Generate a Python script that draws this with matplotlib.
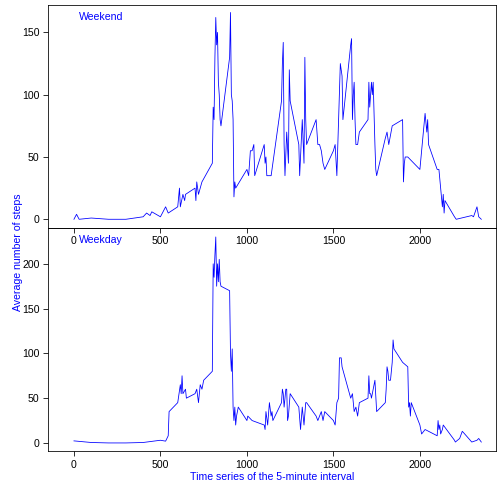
import matplotlib
matplotlib.use("Agg")
import matplotlib.pyplot as plt

plt.rcParams['font.family'] = ['Liberation Sans', 'DejaVu Sans']

# weekend: (interval, mean steps)
weekend_x = [0, 15, 30, 100, 200, 300, 400, 420, 440, 450, 500, 530, 545, 600, 610, 615, 630, 640, 645,
             700, 705, 710, 720, 740, 800, 805, 810, 815, 820, 825, 830, 835, 840, 845, 850, 900, 905, 910,
             915, 920, 925, 930, 935, 1000, 1010, 1020, 1030, 1040, 1045, 1100, 1105, 1110, 1115, 1130, 1140,
             1200, 1205, 1210, 1215, 1220, 1230, 1240, 1245, 1250, 1300, 1305, 1310, 1320, 1330, 1335, 1340,
             1345, 1400, 1410, 1420, 1430, 1440, 1450, 1500, 1510, 1520, 1530, 1540, 1545, 1550, 1555, 1600,
             1605, 1610, 1615, 1620, 1625, 1630, 1640, 1650, 1700, 1705, 1710, 1720, 1725, 1730, 1740, 1745,
             1750, 1800, 1810, 1820, 1840, 1900, 1905, 1910, 1915, 1930, 2000, 2010, 2030, 2040, 2045, 2050,
             2100, 2110, 2120, 2130, 2135, 2140, 2145, 2200, 2210, 2300, 2310, 2330, 2340, 2355]
weekend_y = [0, 4, 0, 1, 0, 0, 2, 5, 3, 6, 2, 10, 5, 10, 25, 10, 20, 15, 20,
             25, 15, 30, 20, 30, 45, 90, 80, 130, 162, 140, 150, 110, 100, 80, 75, 130, 166, 100,
             95, 80, 18, 30, 25, 40, 35, 55, 55, 60, 35, 60, 45, 50, 35, 35, 35,
             95, 125, 142, 60, 35, 70, 45, 120, 95, 60, 35, 50, 80, 45, 130, 80,
             60, 80, 60, 60, 55, 45, 40, 55, 60, 35, 80, 125, 120, 115, 80, 140,
             145, 80, 100, 110, 80, 60, 60, 70, 80, 110, 90, 110, 100, 110, 60, 40,
             35, 65, 70, 60, 75, 80, 30, 45, 50, 50, 40, 55, 85, 70, 80, 60,
             40, 40, 25, 10, 20, 5, 15, 2, 0, 3, 2, 10, 2, 0]

weekday_x = [0, 100, 200, 300, 400, 500, 530, 545, 550, 600, 615, 620, 625, 630, 645, 650, 700, 710, 720,
             730, 740, 750, 800, 805, 810, 815, 820, 825, 830, 835, 840, 845, 850, 900, 905, 910, 915, 920,
             925, 930, 935, 940, 945, 950, 1000, 1005, 1030, 1100, 1105, 1110, 1120, 1130, 1140, 1145, 1150,
             1200, 1205, 1210, 1215, 1225, 1230, 1235, 1240, 1250, 1300, 1310, 1320, 1330, 1340, 1345, 1400,
             1410, 1420, 1430, 1440, 1450, 1500, 1510, 1520, 1530, 1535, 1545, 1550, 1600, 1610, 1620, 1630,
             1640, 1650, 1700, 1705, 1710, 1715, 1720, 1730, 1740, 1750, 1800, 1805, 1810, 1815, 1820, 1830,
             1840, 1845, 1850, 1900, 1930, 1935, 1940, 1945, 1950, 2000, 2010, 2030, 2100, 2105, 2110, 2115,
             2120, 2130, 2135, 2200, 2205, 2230, 2245, 2250, 2300, 2330, 2340, 2355]
weekday_y = [2.3, 0.5, 0, 0, 0.5, 3, 2, 8, 35, 45, 65, 55, 75, 55, 60, 50, 55, 60, 45,
             65, 60, 70, 80, 200, 185, 210, 230, 175, 200, 180, 205, 180, 175, 170, 100, 80, 105, 40,
             25, 40, 20, 30, 35, 40, 25, 30, 25, 20, 15, 35, 20, 45, 30, 35, 25,
             45, 60, 55, 40, 60, 60, 25, 30, 55, 40, 15, 40, 20, 45, 45, 30,
             25, 30, 35, 25, 35, 25, 20, 45, 50, 95, 95, 85, 50, 55, 35, 40,
             30, 45, 50, 75, 55, 55, 50, 60, 70, 35, 45, 60, 85, 80, 70, 70,
             90, 115, 105, 90, 85, 40, 45, 30, 45, 20, 10, 15, 8, 25, 15, 20,
             10, 15, 20, 3, 1, 5, 13, 12, 1, 3, 5, 1]

fig = plt.figure(figsize=(7, 7), dpi=72)
ax1 = fig.add_axes([48/504, 1-228/504, 448/504, 223/504])
ax2 = fig.add_axes([48/504, 1-451/504, 448/504, 223/504])

for ax, x, y, lim, ticks, name in [(ax1, weekend_x, weekend_y, (-7, 172), [0, 50, 100, 150], "Weekend"),
                                   (ax2, weekday_x, weekday_y, (-9, 240), [0, 50, 100, 150, 200], "Weekday")]:
    ax.plot(x, y, color="blue", lw=0.8)
    ax.set_xlim(-150, 2440)
    ax.set_ylim(*lim)
    ax.set_yticks(ticks)
    ax.set_xticks([0, 500, 1000, 1500, 2000])
    ax.text(0.07, 0.97, name, transform=ax.transAxes, color="blue", fontsize=10.5, va="top")
    ax.tick_params(labelsize=10.5, direction="out", length=5)
    for s in ax.spines.values():
        s.set_linewidth(0.8)

ax1.set_zorder(3)
ax1.patch.set_alpha(0)
ax2.set_xlabel("Time series of the 5-minute interval", color="blue", fontsize=10.5, labelpad=2)
fig.text(0.036, 0.5, "Average number of steps", color="blue", fontsize=10.5, rotation=90, va="center", ha="center")

fig.savefig("out.png", dpi=72)
